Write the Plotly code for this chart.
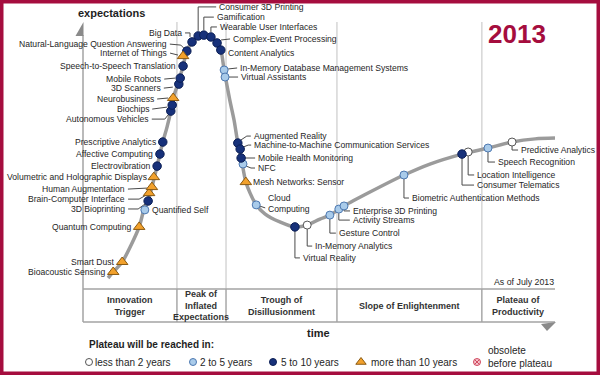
import plotly.graph_objects as go

# ---------------- data (time 0-100, expectations 0-100) ----------------
curve_time = [5.3, 6.4, 8.3, 10.2, 11.9, 12.9, 13.8, 14.6, 15.7, 16.3, 16.9, 17.8, 18.6, 19.1,
              20.1, 21.2, 22.0, 23.1, 24.4, 25.6, 27.1, 28.4, 29.2, 29.9, 31.1, 32.0, 32.8,
              33.5, 34.5, 35.4, 36.7, 38.6, 41.7, 44.9, 47.5, 50.2, 52.3, 55.3, 60.8, 68.0,
              73.5, 80.3, 85.8, 90.9, 95.8, 100.0]
curve_expect = [4.2, 6.5, 10.3, 16.8, 23.7, 30.2, 33.6, 38.9, 46.9, 51.5, 56.1, 61.8, 67.9, 72.9,
                78.2, 85.1, 90.8, 94.3, 96.6, 96.9, 96.2, 93.9, 91.2, 83.6, 72.1, 64.5, 55.7,
                50.0, 40.8, 36.6, 32.1, 28.6, 25.6, 23.7, 24.4, 26.7, 28.2, 31.7, 37.0, 43.5,
                47.7, 51.5, 53.8, 56.1, 57.3, 57.6]

tech_names = [
    "Bioacoustic Sensing", "Smart Dust", "Quantum Computing", "Quantified Self",
    "3D Bioprinting", "Brain-Computer Interface", "Human Augmentation",
    "Volumetric and Holographic Displays", "Electrovibration", "Affective Computing",
    "Prescriptive Analytics", "Autonomous Vehicles", "Biochips", "Neurobusiness",
    "3D Scanners", "Mobile Robots", "Speech-to-Speech Translation", "Internet of Things",
    "Natural-Language Question Answering", "Big Data", "Consumer 3D Printing",
    "Gamification", "Wearable User Interfaces", "Complex-Event Processing",
    "Content Analytics", "In-Memory Database Management Systems", "Virtual Assistants",
    "Augmented Reality", "Machine-to-Machine Communication Services",
    "Mobile Health Monitoring", "NFC", "Mesh Networks: Sensor", "Cloud<br>Computing",
    "Virtual Reality", "In-Memory Analytics", "Gesture Control", "Activity Streams",
    "Enterprise 3D Printing", "Biometric Authentication Methods", "Consumer Telematics",
    "Location Intelligence", "Speech Recognition", "Predictive Analytics",
]
tech_time = [6.4, 8.3, 11.9, 13.1, 13.8, 14.0, 14.6, 15.0, 15.7, 16.3, 16.9, 18.6, 18.9, 19.1,
             20.3, 20.6, 21.2, 21.2, 22.0, 23.1, 24.4, 25.6, 27.1, 28.4, 29.2, 29.9, 30.1,
             32.8, 33.3, 33.5, 33.9, 34.5, 36.7, 44.9, 47.5, 52.3, 54.2, 55.3, 68.0, 80.3,
             81.6, 85.8, 90.9]
tech_expect = [6.5, 10.3, 23.7, 30.2, 33.6, 36.6, 38.9, 42.7, 46.9, 51.5, 56.1, 67.9, 70.2, 72.9,
               78.2, 80.5, 85.1, 88.9, 90.8, 94.3, 96.6, 96.9, 96.2, 93.9, 91.2, 83.6, 80.9,
               55.7, 53.4, 50.0, 47.7, 40.8, 32.1, 23.7, 24.4, 28.2, 30.5, 31.7, 43.5, 51.5,
               52.3, 53.8, 56.1]
# plateau: 0 = <2 yrs, 1 = 2-5 yrs, 2 = 5-10 yrs, 3 = >10 yrs
tech_plateau = [3, 3, 3, 1, 2, 3, 3, 3, 2, 2, 2, 2, 2, 3, 2, 2, 2, 3, 2, 2, 2, 2, 2, 2, 2, 1, 1,
                2, 2, 2, 1, 3, 1, 2, 0, 1, 1, 1, 1, 2, 0, 1, 0]

phase_names = ["Innovation<br>Trigger", "Peak of<br>Inflated<br>Expectations",
               "Trough of<br>Disillusionment", "Slope of Enlightenment",
               "Plateau of<br>Productivity"]
phase_bounds = [19.9, 30.3, 53.8, 84.5]
legend_labels = ["less than 2 years", "2 to 5 years", "5 to 10 years",
                 "more than 10 years", "obsolete<br>before plateau"]

# ---------------- geometry & style ----------------
W, H = 600, 375
PX_L, PX_R, PX_T, PX_B = 83, 555, 27, 289
SX = (PX_R - PX_L) / 100.0
SY = (PX_B - PX_T) / 100.0


def px2d(px, py):
    return (px - PX_L) / SX, (PX_B - py) / SY


def d2px(t, e):
    return PX_L + t * SX, PX_B - e * SY


CRIMSON = "#A50D3E"
TXT = "#262626"
FONT = "Liberation Sans, Arial, sans-serif"
LBL_SIZE = 8.6

# label layout: (dx, dy, anchor, leader offsets) in pixels relative to the marker
LBL = {
    "Bioacoustic Sensing": (-6, 0, "right", []),
    "Smart Dust": (-6, 0, "right", []),
    "Quantum Computing": (-6, 0, "right", []),
    "Quantified Self": (6, 0, "left", []),
    "3D Bioprinting": (-22, 8, "right", [(-20, 8), (-10, 8), (-3, 3)]),
    "Brain-Computer Interface": (-23, 6, "right", [(-21, 6), (-10, 6), (-3, 2)]),
    "Human Augmentation": (-26, 2, "right", [(-24, 2), (-5, 1)]),
    "Volumetric and Holographic Displays": (-6, 0, "right", []),
    "Electrovibration": (-6, 0, "right", []),
    "Affective Computing": (-6, 0, "right", []),
    "Prescriptive Analytics": (-6, 0, "right", []),
    "Autonomous Vehicles": (-21, 8, "right", [(-19, 8), (-6, 8), (-2, 3)]),
    "Biochips": (-22, 4, "right", [(-20, 4), (-5, 2)]),
    "Neurobusiness": (-18, 1, "right", [(-16, 1), (-5, 0)]),
    "3D Scanners": (-17, 4, "right", [(-15, 4), (-6, 3)]),
    "Mobile Robots": (-18, 1, "right", [(-16, 1), (-5, 0)]),
    "Speech-to-Speech Translation": (-6, 0, "right", []),
    "Internet of Things": (-15, -3, "right", [(-13, -3), (-5, -1)]),
    "Natural-Language Question Answering": (-19, -7, "right", [(-17, -7), (-6, -6), (-3, -3)]),
    "Big Data": (-9, -9, "right", [(-7, -9), (-2, -9), (-2, -5)]),
    "Consumer 3D Printing": (20, -29, "left", [(0, -5), (0, -29), (18, -29)]),
    "Gamification": (12, -18, "left", [(0, -5), (0, -18), (10, -18)]),
    "Wearable User Interfaces": (8, -10, "left", [(0, -5), (0, -10), (6, -10)]),
    "Complex-Event Processing": (15, -4, "left", [(4, -3), (13, -4)]),
    "Content Analytics": (6, 3, "left", []),
    "In-Memory Database Management Systems": (15, -2, "left", [(4, -1), (13, -2)]),
    "Virtual Assistants": (15, 0, "left", [(4, 0), (13, 0)]),
    "Augmented Reality": (15, -7, "left", [(3, -3), (9, -7), (13, -7)]),
    "Machine-to-Machine Communication Services": (13, -4, "left", [(3, -2), (8, -4), (11, -4)]),
    "Mobile Health Monitoring": (16, 0, "left", [(4, 0), (14, 0)]),
    "NFC": (14, 4, "left", [(3, 2), (8, 4), (12, 4)]),
    "Mesh Networks: Sensor": (6, 0, "left", []),
    "Cloud<br>Computing": (11, -1.5, "left", [(3, 1), (9, 3)]),
    "Virtual Reality": (7, 31, "left", [(0, 4), (0, 31), (5, 31)]),
    "In-Memory Analytics": (7, 21, "left", [(0, 4), (0, 21), (5, 21)]),
    "Gesture Control": (8, 18, "left", [(0, 4), (0, 18), (6, 18)]),
    "Activity Streams": (13, 11, "left", [(0, 4), (0, 11), (11, 11)]),
    "Enterprise 3D Printing": (8, 5, "left", [(0, 4), (0, 5), (6, 5)]),
    "Biometric Authentication Methods": (7, 23, "left", [(0, 4), (0, 23), (5, 23)]),
    "Consumer Telematics": (14, 31, "left", [(0, 4), (0, 31), (12, 31)]),
    "Location Intelligence": (8, 23, "left", [(0, 4), (0, 23), (6, 23)]),
    "Speech Recognition": (9, 14, "left", [(0, 4), (0, 14), (7, 14)]),
    "Predictive Analytics": (8, 8, "left", [(0, 4), (0, 8), (6, 8)]),
}

MARK = [
    dict(symbol="circle", size=8, color="#ffffff", line=dict(color="#555555", width=1)),
    dict(symbol="circle", size=8, color="#a9cbea", line=dict(color="#4d78b0", width=1)),
    dict(symbol="circle", size=8.5, color="#17317a", line=dict(color="#0c1f55", width=1)),
    dict(symbol="triangle-up", size=10, color="#f2a12c", line=dict(color="#8a5a12", width=1)),
    dict(symbol="circle-x", size=7, color="#f6c4cc", line=dict(color="#d04a60", width=1)),
]

fig = go.Figure()

# phase dividers
for b in phase_bounds:
    bx, _ = d2px(b, 0)
    x0, y0 = px2d(bx, 22)
    x1, y1 = px2d(bx, PX_B)
    fig.add_shape(type="line", x0=x0, y0=y0, x1=x1, y1=y1, line=dict(color="#d6d6d6", width=1.5), layer="below")
    x2, y2 = px2d(bx, 322)
    fig.add_shape(type="line", x0=x1, y0=y1, x1=x2, y1=y2, line=dict(color="#a8a8a8", width=1.5), layer="below")

# axes frame
ax_col = "#a3a3a3"
for (p0, p1) in [((PX_L, 35), (PX_L, 322)), ((PX_L, PX_B), (PX_R, PX_B)), ((PX_L, 322), (PX_R, 322))]:
    a = px2d(*p0)
    b = px2d(*p1)
    fig.add_shape(type="line", x0=a[0], y0=a[1], x1=b[0], y1=b[1], line=dict(color=ax_col, width=1.5), layer="below")


def tri_path(pts):
    s = ""
    for i, (px, py) in enumerate(pts):
        x, y = px2d(px, py)
        s += ("M" if i == 0 else "L") + f"{x:.3f},{y:.3f} "
    return s + "Z"


fig.add_shape(type="path", path=tri_path([(83.5, 22), (75.5, 36), (83.5, 36)]),
              fillcolor="#8a8a8a", line=dict(width=0))
fig.add_shape(type="path", path=tri_path([(541, 324), (556, 322), (547, 331)]),
              fillcolor="#8a8a8a", line=dict(width=0))

# hype curve
fig.add_trace(go.Scatter(x=curve_time, y=curve_expect, mode="lines",
                         line=dict(color="#9b9b9b", width=3.5, shape="spline", smoothing=0.8),
                         hoverinfo="skip", showlegend=False))

# leader lines
lx, ly = [], []
for n, t, e in zip(tech_names, tech_time, tech_expect):
    lead = LBL[n][3]
    if not lead:
        continue
    mx, my = d2px(t, e)
    for dx, dy in lead:
        x, y = px2d(mx + dx, my + dy)
        lx.append(x)
        ly.append(y)
    lx.append(None)
    ly.append(None)
fig.add_trace(go.Scatter(x=lx, y=ly, mode="lines", line=dict(color="#4a4a4a", width=1),
                         hoverinfo="skip", showlegend=False))

# markers by plateau category
for cat in range(4):
    xs = [t for t, p in zip(tech_time, tech_plateau) if p == cat]
    ys = [e for e, p in zip(tech_expect, tech_plateau) if p == cat]
    fig.add_trace(go.Scatter(x=xs, y=ys, mode="markers", marker=MARK[cat],
                             hoverinfo="skip", showlegend=False))

# technology labels
for n, t, e in zip(tech_names, tech_time, tech_expect):
    dx, dy, anc, _ = LBL[n]
    mx, my = d2px(t, e)
    x, y = px2d(mx + dx, my + dy)
    fig.add_annotation(x=x, y=y, text=n, showarrow=False, xanchor=anc, yanchor="middle",
                       align="left", font=dict(family=FONT, size=LBL_SIZE, color=TXT), borderpad=0)


def txt(px, py, s, size, anchor="center", bold=False, color=TXT, align="center"):
    x, y = px2d(px, py)
    fig.add_annotation(x=x, y=y, text=(f"<b>{s}</b>" if bold else s), showarrow=False,
                       xanchor=anchor, yanchor="middle", align=align, borderpad=0,
                       font=dict(family=FONT, size=size, color=color))


# phase labels centred between boundaries
edges = [0] + phase_bounds + [100]
for i, name in enumerate(phase_names):
    cx = (edges[i] + edges[i + 1]) / 2
    px, _ = d2px(cx, 0)
    txt(px, 305.5, name, 9, bold=True, color="#333333")

txt(111, 13, "expectations", 11, bold=True, color="#1e1e1e")
txt(318, 333, "time", 11, bold=True, color="#1e1e1e")
txt(555, 282, "As of July 2013", 8.8, anchor="right")
txt(517, 34, "2013", 26, bold=True, color=CRIMSON)
txt(88, 344, "Plateau will be reached in:", 10, anchor="left", bold=True, color="#1e1e1e")

# legend
leg_sym_px = [89, 193, 273, 361, 477]
leg_txt_px = [94, 199, 280, 370, 487]
for i, lab in enumerate(legend_labels):
    mx, my = px2d(leg_sym_px[i], 362)
    m = dict(MARK[i])
    m["size"] = 7 if i < 3 else (9 if i == 3 else 7)
    fig.add_trace(go.Scatter(x=[mx], y=[my], mode="markers", marker=m, hoverinfo="skip", showlegend=False))
    if i < 4:
        txt(leg_txt_px[i], 362, lab, 10, anchor="left", align="left")
    else:
        txt(leg_txt_px[i], 356.5, lab, 10, anchor="left", align="left")

# border
fig.add_shape(type="rect", xref="paper", yref="paper", x0=1.75 / W, y0=1.75 / H, x1=1 - 1.75 / W, y1=1 - 1.75 / H,
              line=dict(color=CRIMSON, width=3.5))

xr = [px2d(0, 0)[0], px2d(W, 0)[0]]
yr = [px2d(0, H)[1], px2d(0, 0)[1]]
fig.update_layout(
    width=W, height=H, margin=dict(l=0, r=0, t=0, b=0),
    paper_bgcolor="white", plot_bgcolor="white",
    xaxis=dict(range=xr, visible=False, domain=[0, 1], fixedrange=True),
    yaxis=dict(range=yr, visible=False, domain=[0, 1], fixedrange=True),
    font=dict(family=FONT), showlegend=False,
)
fig.write_html("out.html", config={"displayModeBar": False},
               post_script="document.body.style.margin='0';document.body.style.overflow='hidden';")
